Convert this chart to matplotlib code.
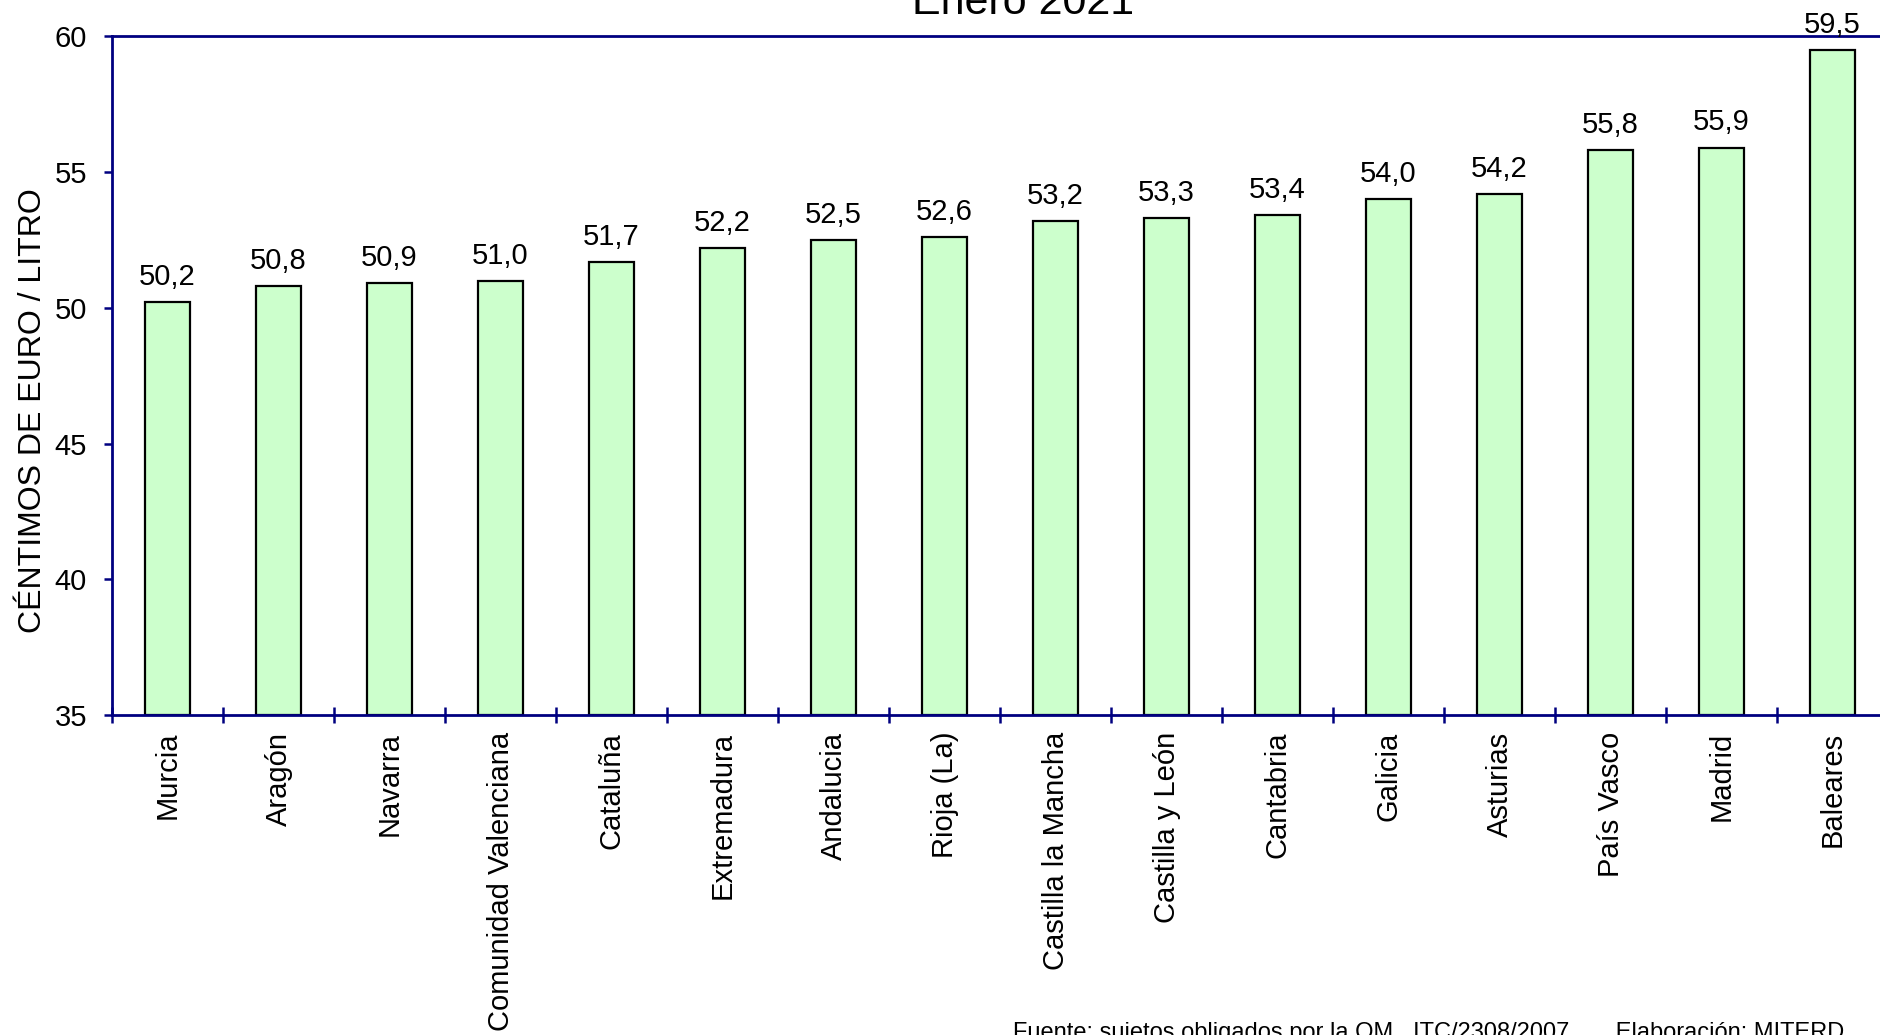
import matplotlib.pyplot as plt
import numpy as np

plt.rcParams['font.family'] = ['Liberation Sans', 'DejaVu Sans']

regiones = ['Murcia', 'Aragón', 'Navarra', 'Comunidad Valenciana', 'Cataluña',
            'Extremadura', 'Andalucia', 'Rioja (La)', 'Castilla la Mancha',
            'Castilla y León', 'Cantabria', 'Galicia', 'Asturias', 'País Vasco',
            'Madrid', 'Baleares']
precios = [50.2, 50.8, 50.9, 51.0, 51.7, 52.2, 52.5, 52.6, 53.2, 53.3, 53.4,
           54.0, 54.2, 55.8, 55.9, 59.5]
yticks = [35, 40, 45, 50, 55, 60]

navy = '#000080'

fig = plt.figure(figsize=(18.8, 10.35), dpi=100)
ax = fig.add_axes([0.0596, 0.309, 0.9447, 0.656])

x = np.arange(len(regiones))
ax.bar(x, [p - 35 for p in precios], bottom=35, width=0.4, color='#ccffcc',
       edgecolor='black', linewidth=1.6, zorder=2)

for xi, p in zip(x, precios):
    ax.annotate(('%.1f' % p).replace('.', ','), (xi, p), xytext=(0, 8),
                textcoords='offset points', ha='center', va='bottom', fontsize=21)

ax.set_xlim(-0.5, len(regiones) - 0.5)
ax.set_ylim(35, 60)
ax.set_yticks(yticks)
ax.set_yticklabels([str(t) for t in yticks], fontsize=21)
ax.set_xticks(x)
ax.set_xticklabels(regiones, rotation=90, fontsize=21)
ax.tick_params(axis='x', which='major', length=0, pad=12)
ax.set_xticks(np.arange(-0.5, len(regiones)), minor=True)
ax.tick_params(axis='x', which='minor', length=12, width=1.8, color=navy,
               direction='inout')
ax.tick_params(axis='y', length=6, width=1.8, color=navy, pad=12)

for s in ['left', 'bottom', 'top']:
    ax.spines[s].set_color(navy)
    ax.spines[s].set_linewidth(2)
ax.spines['right'].set_visible(False)

ax.set_ylabel('CÉNTIMOS DE EURO / LITRO', fontsize=23)
ax.yaxis.set_label_coords(-0.036, 0.449)

fig.text(0.544, 0.9865, 'Enero 2021', ha='center', va='baseline', fontsize=31)
fig.text(0.539, -0.009, 'Fuente: sujetos obligados por la OM   ITC/2308/2007       Elaboración: MITERD',
         ha='left', va='bottom', fontsize=17)

fig.savefig('out.png', dpi=100)
